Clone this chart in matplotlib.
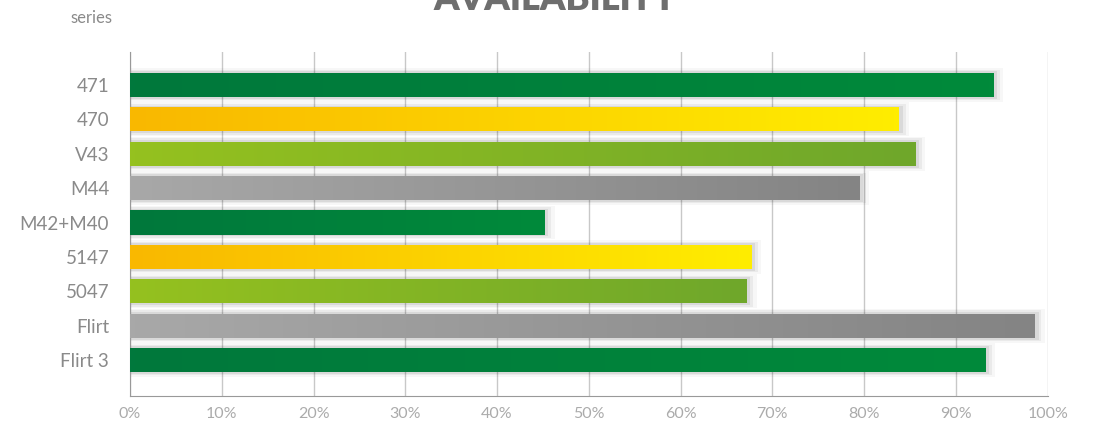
"""
Availability per series, horizontal gradient bars.
"""

import numpy as np
import matplotlib
matplotlib.use('Agg')
import matplotlib.pyplot as plt
from matplotlib.colors import LinearSegmentedColormap
from matplotlib.patches import FancyBboxPatch

plt.rcParams['font.family'] = ['Lato', 'DejaVu Sans']

series = ["471", "470", "V43", "M44", "M42+M40", "5147", "5047", "Flirt", "Flirt 3"]
availability = [94.1, 83.8, 85.6, 79.5, 45.2, 67.7, 67.2, 98.6, 93.2]
ticks = [0, 10, 20, 30, 40, 50, 60, 70, 80, 90, 100]

# left -> right colour of each bar's gradient
gradients = {
    "green": ("#00783C", "#008A3A"),
    "yellow": ("#F9B800", "#FFED00"),
    "lime": ("#95C11F", "#6FA72B"),
    "gray": ("#A8A8A8", "#848484"),
}
bar_styles = ["green", "yellow", "lime", "gray", "green", "yellow", "lime", "gray", "green"]

fig = plt.figure(figsize=(10.97, 4.25), dpi=100)
ax = fig.add_axes([0.1185, 0.068, 0.8365, 0.8096])

ax.set_xticks(ticks)
ax.set_xticklabels([f"{t}%" for t in ticks])
ax.xaxis.grid(True, color="#c8c8c8", linewidth=1.0)
ax.set_axisbelow(True)

ypos = np.arange(len(series))
ax.set_yticks(ypos)
ax.set_yticklabels(series)

height = 0.7
grad = np.linspace(0, 1, 256).reshape(1, -1)
for y, val, style in zip(ypos, availability, bar_styles):
    # soft glow around the bar
    for k, a in [(1.2, 0.03), (0.8, 0.05), (0.45, 0.07)]:
        glow = FancyBboxPatch((0, y - height / 2 - k * 0.12), val + k * 0.9, height + k * 0.24,
                              boxstyle="square,pad=0", facecolor="#000000", edgecolor="none",
                              alpha=a, zorder=2)
        ax.add_patch(glow)
    c0, c1 = gradients[style]
    cmap = LinearSegmentedColormap.from_list(style, [c0, c1])
    bar = ax.barh(y, val, height=height, color="none", edgecolor="none", zorder=3)[0]
    im = ax.imshow(grad, cmap=cmap, aspect="auto", interpolation="bilinear",
                   extent=[0, val, y + height / 2, y - height / 2], zorder=3)
    im.set_clip_path(bar)

ax.set_xlim(0, 100)
ax.set_ylim(len(series) - 1 + 1.05, -0.96)

for s in ["top", "right"]:
    ax.spines[s].set_visible(False)
ax.spines["left"].set_color("#999999")
ax.spines["bottom"].set_color("#999999")
ax.tick_params(axis="y", length=0, pad=15, labelsize=13.5, labelcolor="#8a8a8a")
ax.tick_params(axis="x", length=0, pad=8, labelsize=11.5, labelcolor="#ababab")

fig.text(0.064, 0.958, "series", fontsize=12, color="#8a8a8a", ha="left", va="center")
fig.text(0.506, 1.0, "AVAILABILITY", fontsize=26, fontweight="heavy", color="#6e6e6e",
         ha="center", va="center")

plt.savefig("out.png", dpi=100)
plt.close()
